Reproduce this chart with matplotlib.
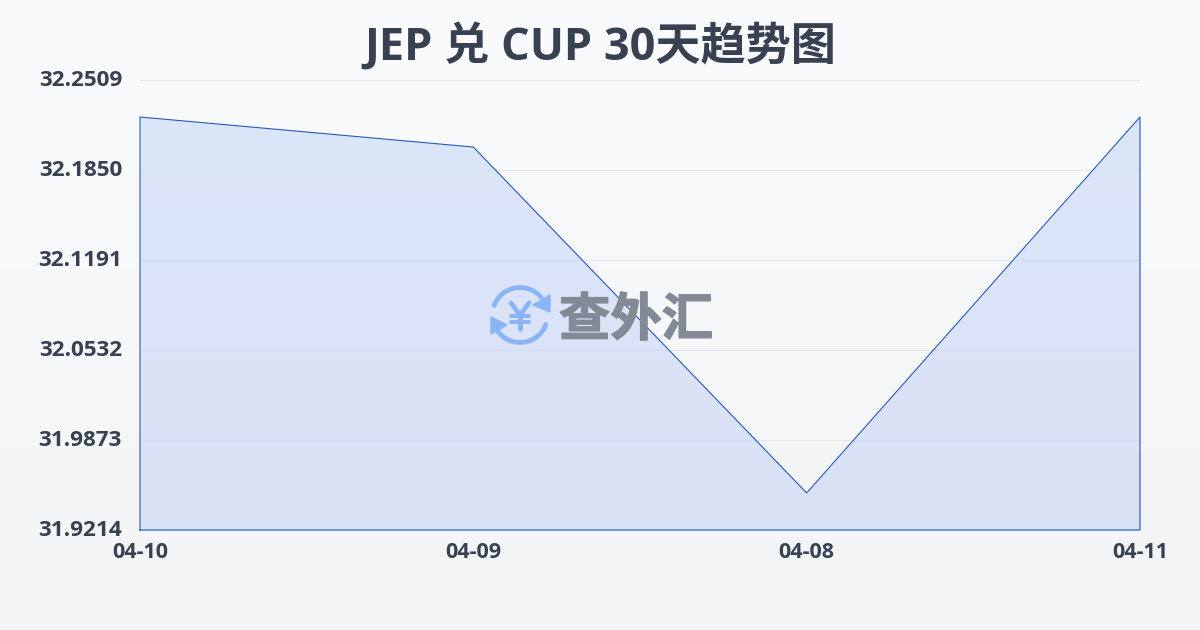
import matplotlib
matplotlib.use('Agg')
import matplotlib.pyplot as plt
import matplotlib.patheffects as pe
import numpy as np
from matplotlib.patches import Arc, Polygon
from matplotlib.transforms import Affine2D

plt.rcParams['font.family'] = ['Open Sans', 'Noto Sans CJK SC', 'DejaVu Sans']

dates = ['04-10', '04-09', '04-08', '04-11']
rates = [32.2238, 32.2018, 31.9485, 32.2238]
y_ticks = [31.9214, 31.9873, 32.0532, 32.1191, 32.1850, 32.2509]
title = 'JEP 兑 CUP 30天趋势图'
text_color = '#374151'

fig = plt.figure(figsize=(12, 6.3), dpi=100)

# background gradient
bg = fig.add_axes([0, 0, 1, 1], zorder=0)
bg.imshow(np.linspace(0, 1, 256).reshape(-1, 1),
          cmap=matplotlib.colors.LinearSegmentedColormap.from_list('bg', ['#f9fbfd', '#f3f4f6']),
          aspect='auto')
bg.axis('off')

ax = fig.add_axes([140 / 1200, 1 - 530 / 630, 1000 / 1200, 450 / 630], zorder=1)
ax.patch.set_alpha(0)
x = np.arange(len(dates))
ax.set_xlim(0, len(dates) - 1)
ax.set_ylim(y_ticks[0], y_ticks[-1])

ax.fill_between(x, rates, y_ticks[0], color='#2563eb', alpha=0.13, linewidth=0, zorder=2)
ax.plot([x[0], *x, x[-1], x[0]], [y_ticks[0], *rates, y_ticks[0], y_ticks[0]],
        color='#2557bd', linewidth=0.8, clip_on=False, zorder=3)

ax.set_yticks(y_ticks)
ax.set_yticklabels([f'{v:.4f}' for v in y_ticks], fontsize=16.2, fontweight='bold', color=text_color)
ax.set_xticks(x)
ax.set_xticklabels(dates, fontsize=15.5, fontweight='bold', color=text_color)
ax.tick_params(axis='y', length=0, pad=13)
ax.tick_params(axis='x', length=0, pad=9)
# labels sit a little above the gridlines in the original
for lab in ax.get_yticklabels():
    lab.set_transform(lab.get_transform() + Affine2D().translate(0, 2))
ax.grid(axis='y', color='#cbd5e1', alpha=0.45, linewidth=0.8)
ax.set_axisbelow(False)
for s in ax.spines.values():
    s.set_visible(False)

fig.text(0.5, 1 - 48 / 630, title, ha='center', va='center', fontsize=32.5,
         fontweight='bold', color=text_color)

# watermark logo, pixel coordinates
wm = fig.add_axes([0, 0, 1, 1], zorder=4)
wm.axis('off')
logo = '#8ab4f8'
cx, cy = 520, 315
for t1, t2 in [(200, 320), (20, 160)]:
    wm.add_patch(Arc((cx, cy), 55, 55, theta1=t1, theta2=t2, color=logo, linewidth=3.4,
                     capstyle='round'))
wm.add_patch(Polygon([[550, 295], [550, 312], [533, 305]], closed=True, color=logo))
wm.add_patch(Polygon([[491, 317], [491, 334], [507, 325]], closed=True, color=logo))
# yen sign
wm.plot([511, 520, 529], [303, 315, 303], color=logo, lw=3.4, solid_capstyle='round')
wm.plot([520, 520], [315, 329], color=logo, lw=3.4, solid_capstyle='round')
wm.plot([511, 529], [316, 316], color=logo, lw=2.8, solid_capstyle='round')
wm.plot([511, 529], [322, 322], color=logo, lw=2.8, solid_capstyle='round')
wm.set_xlim(0, 1200)
wm.set_ylim(630, 0)
wm.text(636, 320, '查外汇', ha='center', va='center', fontsize=37, fontweight='bold',
        family=['Noto Sans CJK SC'], color='#838995',
        path_effects=[pe.withStroke(linewidth=1, foreground='#838995')])

plt.savefig('out.png', dpi=100)
